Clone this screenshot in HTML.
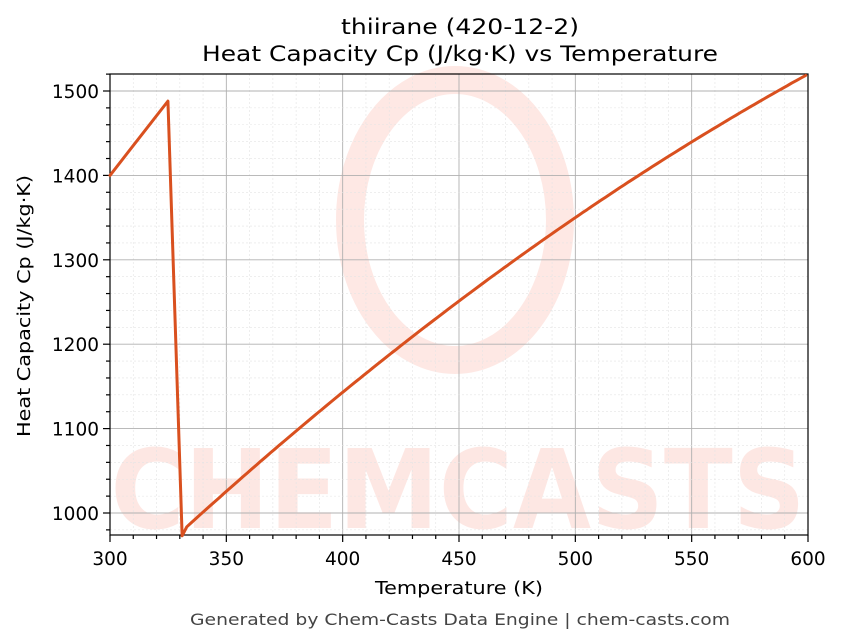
<!DOCTYPE html>
<html><head><meta charset="utf-8"><style>
html,body{margin:0;padding:0;background:#fff;}
svg{display:block;font-family:"DejaVu Sans","Liberation Sans",sans-serif;}
</style></head><body>
<svg width="843" height="644" viewBox="0 0 843 644" xmlns="http://www.w3.org/2000/svg">
<rect width="843" height="644" fill="#fff"/>
<g opacity="0.16" fill="#f86f5a">
<ellipse cx="455" cy="220" rx="105" ry="140" fill="none" stroke="#f86f5a" stroke-width="28"/>
<text x="458" y="528" font-size="110" font-weight="bold" text-anchor="middle" textLength="695" lengthAdjust="spacingAndGlyphs">CHEMCASTS</text>
</g>
<g id="grid"></g>
<rect x="110" y="74" width="698" height="461" fill="none" stroke="#000" stroke-width="1.2"/>
<text x="460" y="34" font-size="21" text-anchor="middle" textLength="238" lengthAdjust="spacingAndGlyphs">thiirane (420-12-2)</text>
<text x="460" y="61" font-size="21" text-anchor="middle" textLength="516" lengthAdjust="spacingAndGlyphs">Heat Capacity Cp (J/kg·K) vs Temperature</text>
<text x="459" y="594" font-size="18" text-anchor="middle" textLength="168" lengthAdjust="spacingAndGlyphs">Temperature (K)</text>
<text transform="translate(30,306) rotate(-90)" font-size="18" text-anchor="middle" textLength="262" lengthAdjust="spacingAndGlyphs">Heat Capacity Cp (J/kg·K)</text>
<text x="460" y="625" font-size="16" fill="#444" text-anchor="middle" textLength="540" lengthAdjust="spacingAndGlyphs">Generated by Chem-Casts Data Engine | chem-casts.com</text>
<path id="curve" d="" fill="none" stroke="#d9501f" stroke-width="3" stroke-linejoin="round" stroke-linecap="round"/>
<script>
(function(){
var ns="http://www.w3.org/2000/svg",g=document.getElementById("grid");
function ln(x1,y1,x2,y2,c,w,d){var l=document.createElementNS(ns,"line");l.setAttribute("x1",x1);l.setAttribute("y1",y1);l.setAttribute("x2",x2);l.setAttribute("y2",y2);l.setAttribute("stroke",c);l.setAttribute("stroke-width",w);if(d)l.setAttribute("stroke-dasharray",d);g.appendChild(l);}
function tx(x,y,s,a){var t=document.createElementNS(ns,"text");t.setAttribute("x",x);t.setAttribute("y",y);t.setAttribute("font-size","18.5");t.setAttribute("text-anchor",a);t.textContent=s;g.appendChild(t);}
function X(t){return 110+(t-300)*2.32667;}
function Y(v){return 513-(v-1000)*0.844;}
for(var t=300;t<=600;t+=10){var x=X(t);var maj=(t%50==0);ln(x,74,x,535,maj?"#b0b0b0":"#e4e4e4",maj?0.9:0.6,maj?null:"2,2");ln(x,535,x,535+(maj?7:4),"#000",1.2);if(maj)tx(x,565,String(t),"middle");}
for(var v=980;v<=1520;v+=20){var y=Y(v);if(y<74||y>535)continue;var maj=(v%100==0);ln(110,y,808,y,maj?"#b0b0b0":"#e4e4e4",maj?0.9:0.6,maj?null:"2,2");ln(110-(maj?7:4),y,110,y,"#000",1.2);if(maj)tx(99,y+7,String(v),"end");}
var d="M"+X(300)+","+Y(1400)+" L"+X(324.9)+","+Y(1488)+" L"+X(331)+","+Y(973);
for(var T=333;T<=600;T+=2){var c=-55+3.735*T-0.00185*T*T;d+=" L"+X(T).toFixed(1)+","+Y(c).toFixed(1);}
document.getElementById("curve").setAttribute("d",d);
})();
</script>
</svg>
</body></html>
